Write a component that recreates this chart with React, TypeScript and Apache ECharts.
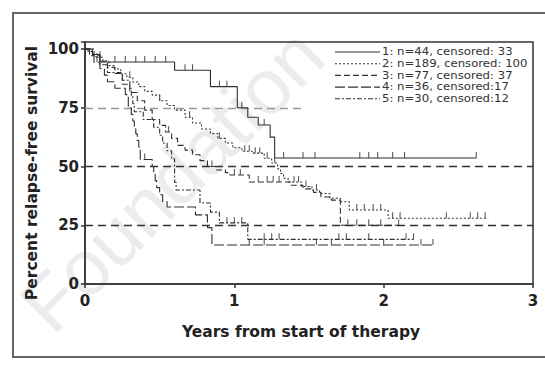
import React, { useEffect, useRef } from "react";
import * as echarts from "echarts";

const seriesNames = [
  "1: n=44, censored: 33",
  "2: n=189, censored: 100",
  "3: n=77, censored: 37",
  "4: n=36, censored:17",
  "5: n=30, censored:12",
];

const curve1 = [
  [0, 100], [0.05, 97.7], [0.1, 94.5], [0.6, 91], [0.84, 84], [1.02, 75], [1.09, 71],
  [1.16, 67.7], [1.24, 62.5], [1.27, 53.6], [2.62, 53.6],
];
const censor1 = [
  [0.2, 94.5], [0.27, 94.5], [0.34, 94.5], [0.4, 94.5], [0.47, 94.5], [0.54, 94.5],
  [0.67, 91], [0.72, 91], [0.9, 84], [0.95, 84], [1.05, 75], [1.2, 67.7],
  [1.33, 53.6], [1.46, 53.6], [1.54, 53.6], [1.84, 53.6], [1.9, 53.6], [1.96, 53.6],
  [2.06, 53.6], [2.14, 53.6], [2.62, 53.6],
];

const curve2 = [
  [0, 100], [0.02, 99], [0.05, 98], [0.08, 96.5], [0.12, 95], [0.16, 93], [0.2, 91.5],
  [0.24, 89.5], [0.28, 88], [0.32, 86], [0.36, 84], [0.4, 82], [0.45, 80.4], [0.5, 78],
  [0.55, 76], [0.6, 74], [0.67, 71], [0.72, 68.5], [0.78, 66], [0.84, 64], [0.89, 62],
  [0.94, 60], [0.99, 58], [1.05, 56.5], [1.12, 55.7], [1.2, 53.5], [1.25, 51.5],
  [1.29, 49], [1.31, 47], [1.33, 45], [1.36, 43.4], [1.45, 41.5], [1.52, 40], [1.57, 38.5],
  [1.64, 36.5], [1.71, 35], [1.77, 31.5], [2.03, 28], [2.7, 28],
];
const censor2 = [
  [0.1, 96.5], [0.3, 88], [0.5, 78], [0.7, 71], [0.9, 62], [1.07, 56.5], [1.1, 56.5],
  [1.14, 55.7], [1.17, 55.7], [1.22, 53.5], [1.27, 51.5], [1.4, 43.4], [1.43, 43.4],
  [1.48, 41.5], [1.55, 40], [1.82, 31.5], [1.87, 31.5], [1.93, 31.5], [1.98, 31.5],
  [2.06, 28], [2.11, 28], [2.42, 28], [2.58, 28], [2.63, 28], [2.68, 28],
];

const curve3 = [
  [0, 100], [0.05, 97.4], [0.1, 94.8], [0.15, 92.2], [0.2, 89.6], [0.25, 85], [0.3, 81.5],
  [0.35, 78], [0.4, 74], [0.45, 70], [0.5, 67.5], [0.54, 64.7], [0.58, 62], [0.62, 59],
  [0.67, 57], [0.72, 55], [0.77, 52.5], [0.82, 50], [0.88, 48.5], [0.94, 47.4], [0.97, 46.4],
  [1.1, 43.4], [1.38, 42], [1.46, 40.5], [1.53, 39], [1.58, 37], [1.65, 35.7], [1.71, 25],
  [2.1, 25],
];
const censor3 = [
  [0.56, 64.7], [0.85, 50], [1.0, 46.4], [1.04, 46.4], [1.16, 43.4], [1.22, 43.4],
  [1.26, 43.4], [1.3, 43.4], [1.76, 25], [1.82, 25], [1.9, 25], [1.98, 25], [2.1, 25],
];

const curve4 = [
  [0, 100], [0.03, 97.2], [0.06, 94.4], [0.1, 91.7], [0.13, 88.9], [0.15, 86.1],
  [0.2, 83.3], [0.27, 80.6], [0.29, 75], [0.31, 72.2], [0.32, 69.4], [0.33, 66.7],
  [0.34, 63.9], [0.35, 61.1], [0.36, 58.3], [0.37, 53], [0.45, 50], [0.46, 47],
  [0.47, 44], [0.48, 41], [0.5, 38], [0.52, 35], [0.55, 32.8], [0.74, 29.4], [0.82, 24],
  [0.85, 16.6], [2.33, 16.6],
];
const censor4 = [
  [0.08, 94.4], [0.4, 53], [1.1, 16.6], [1.2, 16.6], [1.55, 16.6], [1.65, 16.6],
  [2.0, 16.6], [2.25, 16.6], [2.33, 16.6],
];

const curve5 = [
  [0, 100], [0.06, 96.7], [0.1, 93.3], [0.15, 90], [0.25, 86.7], [0.3, 83.3], [0.31, 80],
  [0.32, 76.7], [0.33, 73.3], [0.39, 70], [0.46, 66.7], [0.5, 63.3], [0.52, 60],
  [0.55, 56.7], [0.58, 53.3], [0.6, 43.3], [0.61, 40], [0.77, 34.5], [0.84, 30.6],
  [0.9, 26], [1.09, 19], [2.2, 19],
];
const censor5 = [
  [0.95, 26], [1.0, 26], [1.05, 26], [1.2, 19], [1.25, 19], [1.3, 19],
  [1.7, 19], [1.75, 19], [1.9, 19], [2.15, 19], [2.2, 19],
];

const xTicks = [0, 1, 2, 3];
const yTicks = [0, 25, 50, 75, 100];

const curves = [curve1, curve2, curve3, curve4, curve5];
const censors = [censor1, censor2, censor3, censor4, censor5];
const dashTypes: any[] = ["solid", [2, 2], [6, 3], [10, 3], [5, 2, 2, 2]];

const FONT = "'DejaVu Sans', sans-serif";
const LINE_COLOR = "#303030";

export default function App() {
  const ref = useRef<HTMLDivElement>(null);
  useEffect(() => {
    if (!ref.current) return;
    const chart = echarts.init(ref.current, null, { renderer: "svg" });
    const lineSeries = curves.map((c, i) => ({
      name: seriesNames[i],
      type: "line",
      step: "end",
      data: c,
      symbol: "none",
      z: 3,
      lineStyle: { color: LINE_COLOR, width: 1.1, type: dashTypes[i] },
      itemStyle: { color: LINE_COLOR },
      ...(i === 0
        ? {
            markLine: {
              silent: true,
              symbol: "none",
              label: { show: false },
              z: 1,
              data: [
                { yAxis: 50, lineStyle: { color: "#333", width: 1.3, type: [8, 5] } },
                { yAxis: 25, lineStyle: { color: "#333", width: 1.3, type: [8, 5] } },
                [
                  { coord: [0, 75], lineStyle: { color: "#999", width: 1.3, type: [8, 5] } },
                  { coord: [1.48, 75] },
                ],
              ],
            },
          }
        : {}),
    }));
    const censorSeries = censors.map((c, i) => ({
      name: "censored " + (i + 1),
      type: "scatter",
      data: c,
      symbol: "rect",
      symbolSize: [1.1, 6],
      symbolOffset: [0, -3],
      itemStyle: { color: "#333" },
      z: 4,
    }));

    const legendRowY = [52, 63.7, 75.4, 87.1, 98.8];
    const legendGraphics: any[] = [];
    seriesNames.forEach((name, i) => {
      const dash = dashTypes[i];
      legendGraphics.push({
        type: "line",
        shape: { x1: 335, y1: legendRowY[i], x2: 380, y2: legendRowY[i] },
        style: {
          stroke: LINE_COLOR,
          lineWidth: 1.1,
          lineDash: dash === "solid" ? null : dash,
        },
        silent: true,
      });
      legendGraphics.push({
        type: "text",
        x: 382,
        y: legendRowY[i],
        scaleX: 1.17,
        style: {
          text: name,
          fontFamily: FONT,
          fontSize: 10,
          fill: "#333",
          align: "left",
          verticalAlign: "middle",
        },
        silent: true,
      });
    });

    chart.setOption({
      animation: false,
      backgroundColor: "#fff",
      grid: {
        left: 85,
        right: 12,
        top: 42,
        bottom: 81,
        show: true,
        borderColor: "#333",
        borderWidth: 1.5,
      },
      xAxis: {
        type: "value",
        min: 0,
        max: 3,
        interval: 1,
        splitLine: { show: false },
        axisLine: { lineStyle: { color: "#333", width: 1.5 } },
        axisTick: { show: true, length: 4, lineStyle: { color: "#333", width: 1.5 } },
        axisLabel: {
          margin: 9,
          fontFamily: FONT,
          fontWeight: "bold",
          fontSize: 15,
          color: "#222",
          formatter: (v: number) => (xTicks.includes(v) ? String(v) : ""),
        },
      },
      yAxis: {
        type: "value",
        min: 0,
        max: 103,
        interval: 25,
        splitLine: { show: false },
        axisLine: { show: true, lineStyle: { color: "#333", width: 1.5 } },
        axisTick: { show: true, length: 4, lineStyle: { color: "#333", width: 1.5 } },
        axisLabel: {
          margin: 6,
          fontFamily: FONT,
          fontWeight: "bold",
          fontSize: 15,
          color: "#222",
          formatter: (v: number) => (yTicks.includes(v) ? String(v) : ""),
        },
      },
      graphic: [
        {
          type: "text",
          x: 172,
          y: 180,
          rotation: Math.PI / 4,
          z: -10,
          silent: true,
          style: {
            text: "Foundation",
            fontFamily: "'Liberation Sans', Arial, sans-serif",
            fontSize: 78,
            fill: "#ececec",
            align: "center",
            verticalAlign: "middle",
          },
        },
        {
          type: "rect",
          shape: { x: 13, y: 13, width: 545, height: 344 },
          style: { fill: "none", stroke: "#666", lineWidth: 2 },
          silent: true,
        },
        {
          type: "text",
          x: 32,
          y: 173,
          rotation: Math.PI / 2,
          style: {
            text: "Percent relapse-free survival",
            fontFamily: FONT,
            fontWeight: "bold",
            fontSize: 15.5,
            fill: "#222",
            align: "center",
            verticalAlign: "middle",
          },
        },
        {
          type: "text",
          x: 301,
          y: 332,
          style: {
            text: "Years from start of therapy",
            fontFamily: FONT,
            fontWeight: "bold",
            fontSize: 15.5,
            fill: "#222",
            align: "center",
            verticalAlign: "middle",
          },
        },
        ...legendGraphics,
      ],
      series: [...lineSeries, ...censorSeries],
    });
    return () => chart.dispose();
  }, []);
  return (
    <div
      ref={ref}
      style={{ position: "absolute", left: 0, top: 0, width: 545, height: 365 }}
    />
  );
}
